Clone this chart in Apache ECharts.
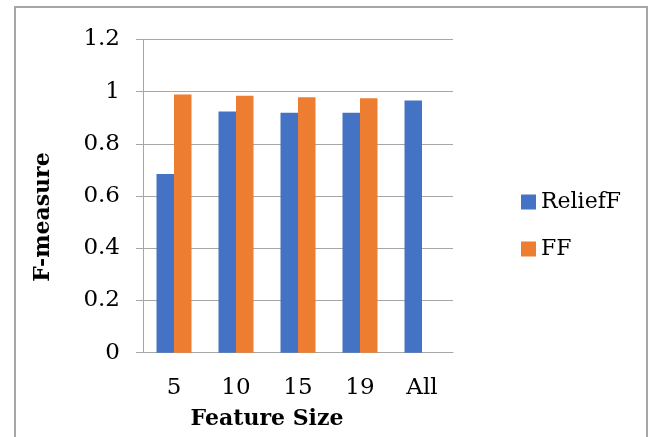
<!DOCTYPE html>
<html>
<head>
<meta charset="utf-8">
<script src="https://cdn.jsdelivr.net/npm/echarts@6/dist/echarts.min.js"></script>
<style>
  html, body { margin: 0; padding: 0; background: #ffffff; }
  #chart { width: 655px; height: 437px; }
</style>
</head>
<body>
<div id="chart"></div>
<script>
// Feature subset sizes and F-measure scores for each selector
const categories = ['5', '10', '15', '19', 'All'];
const reliefF = [0.684, 0.924, 0.919, 0.919, 0.966];
const ff = [0.989, 0.984, 0.978, 0.974, null];
const seriesNames = ['ReliefF', 'FF'];

const FONT = '"DejaVu Serif", "Liberation Serif", serif';
const chart = echarts.init(document.getElementById('chart'));

chart.setOption({
  animation: false,
  backgroundColor: '#ffffff',
  graphic: [{
    type: 'rect',
    shape: { x: 15, y: 7, width: 632, height: 450 },
    style: { fill: 'none', stroke: '#a6a6a6', lineWidth: 2 },
    silent: true
  }],
  grid: { left: 143, right: 202, top: 39.3, bottom: 84.3, outerBoundsMode: 'none', containLabel: false },
  legend: {
    orient: 'vertical',
    left: 521,
    top: 191,
    padding: 0,
    itemWidth: 15,
    itemHeight: 15,
    itemGap: 25,
    icon: 'rect',
    data: seriesNames,
    textStyle: { fontFamily: FONT, fontSize: 22, color: '#000000' }
  },
  xAxis: {
    type: 'category',
    data: categories,
    name: 'Feature Size',
    nameLocation: 'middle',
    nameGap: 56,
    nameTextStyle: {
      fontFamily: FONT, fontSize: 22, fontWeight: 'bold', color: '#000000',
      padding: [0, 62, 0, 0]
    },
    axisLine: { show: true, lineStyle: { color: '#a6a6a6', width: 1 } },
    axisTick: { show: false },
    axisLabel: { fontFamily: FONT, fontSize: 23, color: '#000000', margin: 24 }
  },
  yAxis: {
    type: 'value',
    min: 0,
    max: 1.2,
    interval: 0.2,
    name: 'F-measure',
    nameLocation: 'middle',
    nameGap: 89,
    nameRotate: 90,
    nameTextStyle: {
      fontFamily: FONT, fontSize: 22, fontWeight: 'bold', color: '#000000',
      padding: [0, 42, 0, 0]
    },
    axisLine: { show: true, lineStyle: { color: '#a6a6a6', width: 1 } },
    axisTick: { show: true, inside: false, length: 7, lineStyle: { color: '#a6a6a6' } },
    splitLine: { show: true, lineStyle: { color: '#a6a6a6', width: 1 } },
    axisLabel: {
      fontFamily: FONT, fontSize: 23, color: '#000000', margin: 23,
      formatter: function (v) { return String(Math.round(v * 10) / 10); }
    }
  },
  series: [
    {
      name: seriesNames[0],
      type: 'bar',
      data: reliefF,
      barWidth: 17.5,
      barGap: '0%',
      itemStyle: { color: '#4472C4' }
    },
    {
      name: seriesNames[1],
      type: 'bar',
      data: ff,
      barWidth: 17.5,
      barGap: '0%',
      itemStyle: { color: '#ED7D31' }
    }
  ]
});
</script>
</body>
</html>
